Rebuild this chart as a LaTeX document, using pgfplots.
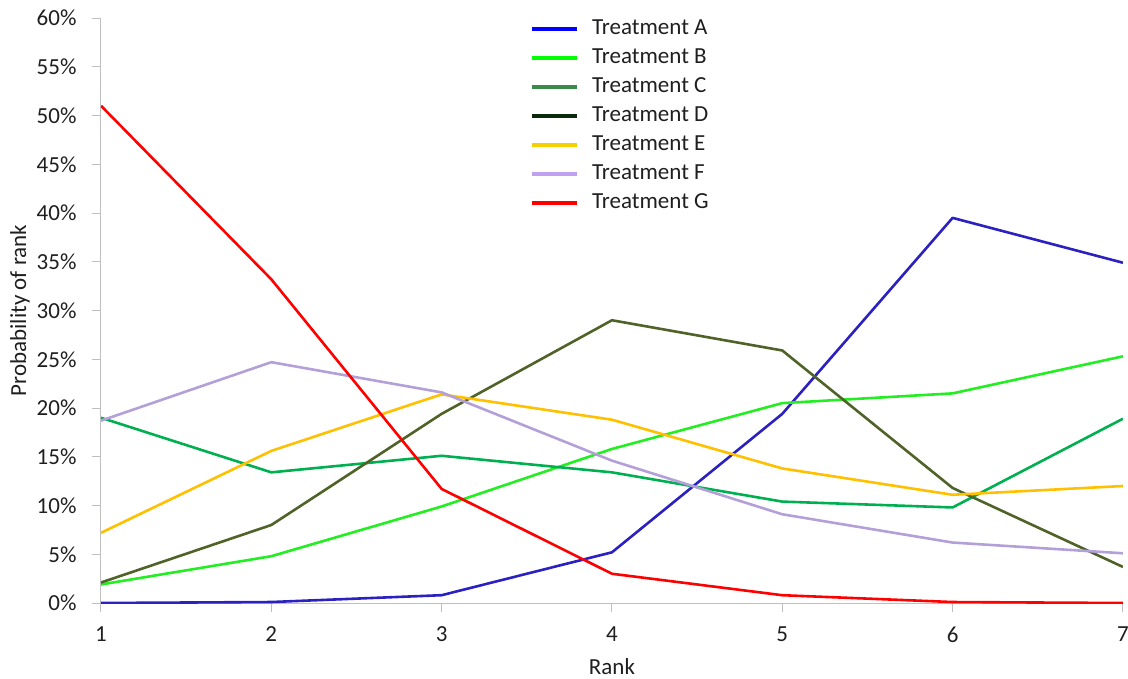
\documentclass[border=0pt]{standalone}
\usepackage{pgfplots}
\pgfplotsset{compat=1.18}
\usepackage{fontspec}
\setmainfont{Carlito}
\definecolor{cA}{HTML}{2B20C0}
\definecolor{cB}{HTML}{22EE22}
\definecolor{cC}{HTML}{00B050}
\definecolor{cD}{HTML}{4F6228}
\definecolor{cE}{HTML}{FFC000}
\definecolor{cF}{HTML}{B4A0D8}
\definecolor{cG}{HTML}{FF0000}
\definecolor{lA}{HTML}{0000FF}
\definecolor{lB}{HTML}{00FF00}
\definecolor{lC}{HTML}{3A8A4A}
\definecolor{lD}{HTML}{0A2A0A}
\definecolor{lE}{HTML}{F5D000}
\definecolor{lF}{HTML}{C0A0F0}
\definecolor{lG}{HTML}{FF0000}
\definecolor{axgray}{HTML}{BFBFBF}
\begin{document}
\begin{tikzpicture}[x=1pt,y=1pt]
\begin{axis}[
  at={(0,0)}, anchor=south west,
  scale only axis, width=1022pt, height=585pt,
  xmin=1, xmax=7, ymin=0, ymax=60,
  xtick={1,...,7}, ytick={0,5,...,60},
  yticklabel={\pgfmathprintnumber{\tick}\%},
  /pgf/number format/assume math mode=true,
  axis x line*=bottom, axis y line*=left,
  axis line style={axgray, line width=1pt},
  tick style={axgray, line width=1pt},
  tick align=outside, major tick length=9pt,
  ticklabel style={font=\fontsize{23}{27}\selectfont, text=black!88},
  yticklabel style={xshift=-12pt},
  xticklabel style={yshift=-11pt},
  xlabel={Rank}, ylabel={Probability of rank},
  label style={font=\fontsize{23}{27}\selectfont, text=black!88},
  xlabel style={yshift=-9pt},
  ylabel style={yshift=0pt},
  legend cell align=left,
  legend style={draw=none, fill=none, at={(0.417,1.01)}, anchor=north west,
    font=\fontsize{23}{27}\selectfont, text=black!88,
    nodes={inner sep=4pt, text height=16pt, text depth=5pt}},
  legend image code/.code={\draw[#1, line width=3.5pt] (0pt,0pt) -- (45pt,0pt); \path[draw=none] (0pt,0pt) -- (56pt,0pt);},
  every axis plot/.append style={line width=2.6pt, line join=round},
]
\addplot[cA, forget plot] coordinates {(1,0) (2,0.1) (3,0.8) (4,5.2) (5,19.4) (6,39.5) (7,34.9)};
\addplot[cB, forget plot] coordinates {(1,1.9) (2,4.8) (3,9.9) (4,15.8) (5,20.5) (6,21.5) (7,25.3)};
\addplot[cC, forget plot] coordinates {(1,19.0) (2,13.4) (3,15.1) (4,13.4) (5,10.4) (6,9.8) (7,18.9)};
\addplot[cD, forget plot] coordinates {(1,2.1) (2,8.0) (3,19.4) (4,29.0) (5,25.9) (6,11.8) (7,3.7)};
\addplot[cE, forget plot] coordinates {(1,7.2) (2,15.6) (3,21.4) (4,18.8) (5,13.8) (6,11.1) (7,12.0)};
\addplot[cF, forget plot] coordinates {(1,18.7) (2,24.7) (3,21.6) (4,14.6) (5,9.1) (6,6.2) (7,5.1)};
\addplot[cG, forget plot] coordinates {(1,51.0) (2,33.2) (3,11.7) (4,3.0) (5,0.8) (6,0.1) (7,0.0)};
\addlegendimage{lA}\addlegendentry{Treatment A}
\addlegendimage{lB}\addlegendentry{Treatment B}
\addlegendimage{lC}\addlegendentry{Treatment C}
\addlegendimage{lD}\addlegendentry{Treatment D}
\addlegendimage{lE}\addlegendentry{Treatment E}
\addlegendimage{lF}\addlegendentry{Treatment F}
\addlegendimage{lG}\addlegendentry{Treatment G}
\end{axis}
\pgfresetboundingbox
\path[use as bounding box] (-101pt,-75pt) rectangle (1027pt,603pt);
\end{tikzpicture}
\end{document}
